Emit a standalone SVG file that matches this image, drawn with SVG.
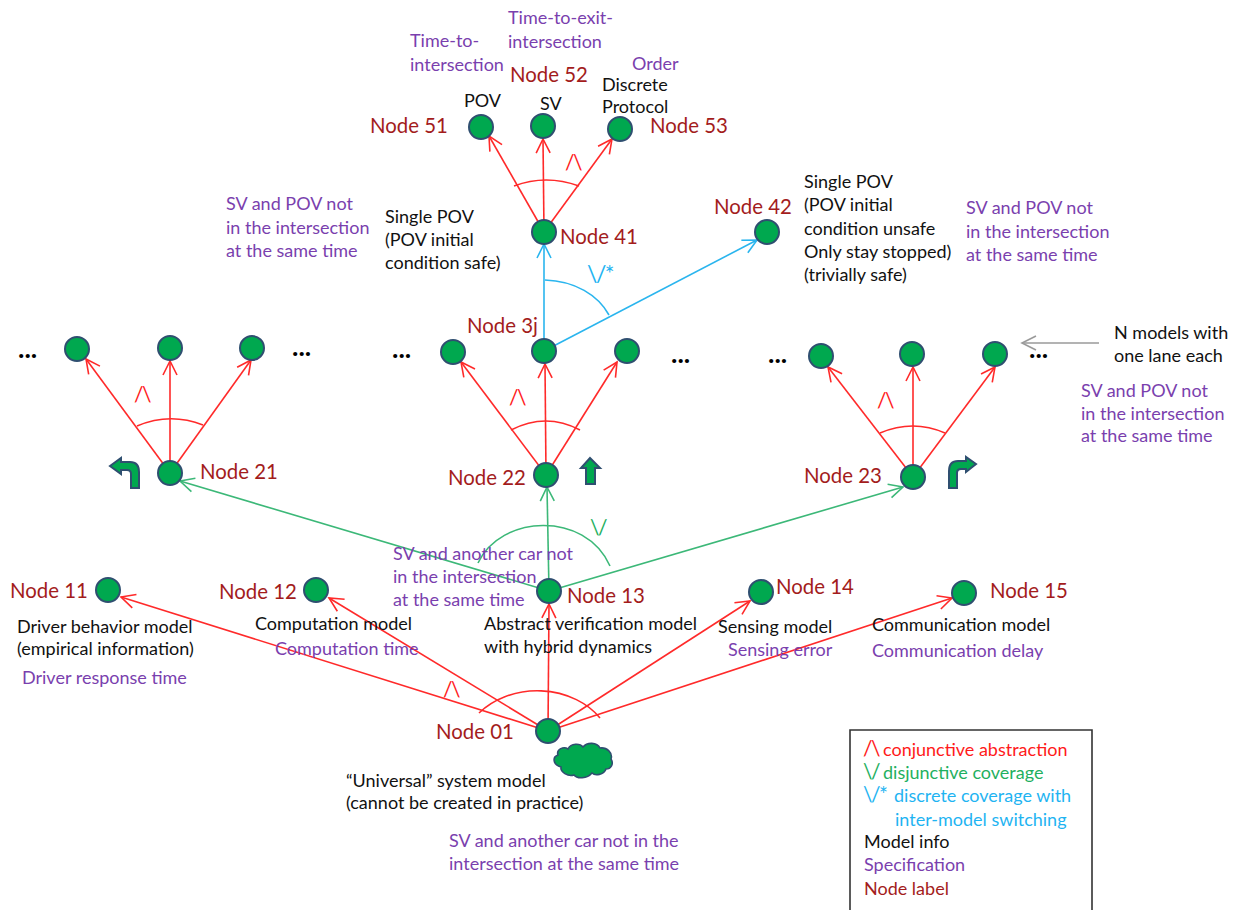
<svg xmlns="http://www.w3.org/2000/svg" width="1247" height="910" viewBox="0 0 1247 910">
<style>
text{font-family:Lato,"Liberation Sans",sans-serif;font-size:18px;transform:translateY(1px)}
.k{fill:#111}
.p{fill:#7a3fae}
.n{fill:#a31c1c;font-size:20.4px}
.r{fill:#ff1a1a}
.g{fill:#1fb060}
.c{fill:#1fb4f2}
.d{font-weight:bold;font-size:27px;fill:#000}
.s{font-size:21px;letter-spacing:-1.5px}
circle{fill:#00a84f;stroke:#2f4f70;stroke-width:2}
.lr,.lg,.lc,.lx{fill:none;stroke-width:1.6}
.lr{stroke:#ff2a2a}
.lg{stroke:#3cb878}
.lc{stroke:#2ab5ee}
.lx{stroke:#9a9a9a}
.ar{marker-end:url(#mr)}
.ag{marker-end:url(#mg)}
.ac{marker-end:url(#mc)}
.ax{marker-end:url(#mx)}
.sh{fill:#00a84f;stroke:#2f4f70;stroke-width:2;stroke-linejoin:miter}
</style>
<defs>
<marker id="mr" markerUnits="userSpaceOnUse" markerWidth="20" markerHeight="20" refX="15" refY="10" orient="auto"><path d="M1 3L15 10L1 17" fill="none" stroke="#ff2a2a" stroke-width="1.6"/></marker>
<marker id="mg" markerUnits="userSpaceOnUse" markerWidth="20" markerHeight="20" refX="15" refY="10" orient="auto"><path d="M1 3L15 10L1 17" fill="none" stroke="#3cb878" stroke-width="1.6"/></marker>
<marker id="mc" markerUnits="userSpaceOnUse" markerWidth="20" markerHeight="20" refX="15" refY="10" orient="auto"><path d="M1 3L15 10L1 17" fill="none" stroke="#2ab5ee" stroke-width="1.6"/></marker>
<marker id="mx" markerUnits="userSpaceOnUse" markerWidth="20" markerHeight="20" refX="15" refY="10" orient="auto"><path d="M1 3L15 10L1 17" fill="none" stroke="#9a9a9a" stroke-width="1.6"/></marker>
</defs>
<rect width="1247" height="910" fill="#fff"/>
<g id="connectors">
<path class="lr ar" d="M548 731L121 597"/>
<path class="lr ar" d="M548 731L329 598"/>
<path class="lr ar" d="M548 731L549 604"/>
<path class="lr ar" d="M548 731L750 601"/>
<path class="lr ar" d="M548 731L952 598"/>
<path class="lr" d="M479 713A75 60 0 0 1 600 718"/>
<path class="lg ag" d="M549 591L180 481"/>
<path class="lg ag" d="M549 591L547 487"/>
<path class="lg ag" d="M549 591L903 487"/>
<path class="lg" d="M478 563C500 515 585 510 610 566"/>
<path class="lr ar" d="M170 473L86 359"/>
<path class="lr ar" d="M170 473L170 361"/>
<path class="lr ar" d="M170 473L251 360"/>
<path class="lr" d="M137 426Q170 412 203 425"/>
<path class="lr ar" d="M546 475L461 362"/>
<path class="lr ar" d="M546 475L545 364"/>
<path class="lr ar" d="M546 475L617 362"/>
<path class="lr" d="M511 430Q546 412 580 430"/>
<path class="lr ar" d="M913 477L828 367"/>
<path class="lr ar" d="M913 477L913 367"/>
<path class="lr ar" d="M913 477L995 367"/>
<path class="lr" d="M880 433Q913 419 945 433"/>
<path class="lc ac" d="M544 351L544 244"/>
<path class="lc ac" d="M544 351L757 240"/>
<path class="lc" d="M545 280C575 281 598 295 609 315"/>
<path class="lr ar" d="M544 232L489 136"/>
<path class="lr ar" d="M544 232L543 139"/>
<path class="lr ar" d="M544 232L612 139"/>
<path class="lr" d="M514 186Q546 174 579 186"/>
<path class="lx ax" d="M1099 343L1022 343"/>
</g>
<g id="node-51"><circle cx="481" cy="127" r="12"/><text class="n" x="370" y="132">Node 51</text><text class="k" x="464" y="106">POV</text></g>
<g id="node-52"><circle cx="543" cy="126" r="12"/><text class="n" x="510" y="81">Node 52</text><text class="k" x="540" y="109">SV</text></g>
<g id="node-53"><circle cx="620" cy="129" r="12"/><text class="n" x="650" y="132">Node 53</text><text class="k" x="602" y="90">Discrete</text><text class="k" x="602" y="112">Protocol</text></g>
<g id="node-41"><circle cx="544" cy="232" r="12"/><text class="n" x="560" y="243">Node 41</text><text class="k" x="385" y="222">Single POV</text><text class="k" x="385" y="245">(POV initial</text><text class="k" x="385" y="268">condition safe)</text></g>
<g id="node-42"><circle cx="767" cy="232" r="12"/><text class="n" x="714" y="213">Node 42</text><text class="k" x="804" y="187">Single POV</text><text class="k" x="804" y="210">(POV initial</text><text class="k" x="804" y="234">condition unsafe</text><text class="k" x="804" y="257">Only stay stopped)</text><text class="k" x="804" y="280">(trivially safe)</text></g>
<g id="node-31"><circle cx="77" cy="349" r="12"/></g>
<g id="node-32"><circle cx="170" cy="348" r="12"/></g>
<g id="node-33"><circle cx="252" cy="348" r="12"/></g>
<g id="node-34"><circle cx="453" cy="352" r="12"/></g>
<g id="node-3j"><circle cx="544" cy="351" r="12"/><text class="n" x="467" y="332">Node 3j</text></g>
<g id="node-36"><circle cx="627" cy="351" r="12"/></g>
<g id="node-37"><circle cx="821" cy="356" r="12"/></g>
<g id="node-38"><circle cx="912" cy="354" r="12"/></g>
<g id="node-39"><circle cx="995" cy="354" r="12"/></g>
<g id="node-21"><circle cx="170" cy="473" r="12"/><text class="n" x="200" y="478">Node 21</text><path class="sh" d="M110 466L121 458V462H130Q139 462 139 472V488H131V474Q131 470 127 470H121V474Z"/></g>
<g id="node-22"><circle cx="546" cy="475" r="12"/><text class="n" x="448" y="484">Node 22</text><path class="sh" d="M590 458L600 468H595V484H586V468H581Z"/></g>
<g id="node-23"><circle cx="913" cy="477" r="12"/><text class="n" x="804" y="482">Node 23</text><path class="sh" d="M976 464L966 457V461H958Q949 461 949 471V488H957V473Q957 469 961 469H966V472Z"/></g>
<g id="node-11"><circle cx="108" cy="590" r="12"/><text class="n" x="10" y="597">Node 11</text><text class="k" x="17" y="632">Driver behavior model</text><text class="k" x="17" y="654">(empirical information)</text><text class="p" x="22" y="683">Driver response time</text></g>
<g id="node-12"><circle cx="316" cy="590" r="12"/><text class="n" x="219" y="598">Node 12</text><text class="k" x="255" y="629">Computation model</text><text class="p" x="275" y="654">Computation time</text></g>
<g id="node-13"><circle cx="549" cy="591" r="12"/><text class="n" x="567" y="602">Node 13</text><text class="p" x="393" y="559">SV and another car not</text><text class="p" x="393" y="582">in the intersection</text><text class="p" x="393" y="605">at the same time</text><text class="k" x="484" y="629">Abstract verification model</text><text class="k" x="484" y="652">with hybrid dynamics</text></g>
<g id="node-14"><circle cx="761" cy="592" r="12"/><text class="n" x="776" y="593">Node 14</text><text class="k" x="718" y="632">Sensing model</text><text class="p" x="728" y="655">Sensing error</text></g>
<g id="node-15"><circle cx="964" cy="593" r="12"/><text class="n" x="990" y="597">Node 15</text><text class="k" x="872" y="630">Communication model</text><text class="p" x="872" y="656">Communication delay</text></g>
<g id="node-01"><circle cx="548" cy="731" r="12"/><text class="n" x="436" y="738">Node 01</text><path class="sh" style="stroke-width:1.6" d="M558 755C556 749 564 746 568 749C571 743 580 743 583 747C587 742 597 742 600 748C607 747 613 753 611 759C614 764 611 769 606 769C604 775 595 776 592 773C587 779 577 779 574 775C568 777 560 772 561 767C553 765 552 757 558 755Z"/><text class="k" x="346" y="786">“Universal” system model</text><text class="k" x="346" y="808">(cannot be created in practice)</text></g>
<g id="specs">
<text class="p" x="508" y="23">Time-to-exit-</text><text class="p" x="508" y="47">intersection</text>
<text class="p" x="410" y="46">Time-to-</text><text class="p" x="410" y="70">intersection</text>
<text class="p" x="632" y="69">Order</text>
<text class="p" x="226" y="209">SV and POV not</text><text class="p" x="226" y="233">in the intersection</text><text class="p" x="226" y="256">at the same time</text>
<text class="p" x="966" y="213">SV and POV not</text><text class="p" x="966" y="237">in the intersection</text><text class="p" x="966" y="260">at the same time</text>
<text class="p" x="1081" y="396">SV and POV not</text><text class="p" x="1081" y="419">in the intersection</text><text class="p" x="1081" y="441">at the same time</text>
<text class="p" x="449" y="846">SV and another car not in the</text><text class="p" x="449" y="869">intersection at the same time</text>
<text class="k" x="1114" y="338">N models with</text><text class="k" x="1114" y="361">one lane each</text>
</g>
<g id="symbols">
<text class="r s" x="565" y="169">/\</text>
<text class="r s" x="134" y="401">/\</text>
<text class="r s" x="509" y="404">/\</text>
<text class="r s" x="877" y="407">/\</text>
<text class="r s" x="443" y="696">/\</text>
<text class="g s" x="590" y="534">\/</text>
<text class="c s" x="587" y="281" style="font-size:23px">\/*</text>
<text class="d" x="18" y="357">...</text><text class="d" x="292" y="355">...</text><text class="d" x="392" y="357">...</text><text class="d" x="671" y="362">...</text><text class="d" x="768" y="362">...</text><text class="d" x="1029" y="357">...</text>
</g>
<g id="legend">
<path d="M850 910V730H1092V910" fill="#fff" stroke="#333" stroke-width="1.6"/>
<text class="r s" x="863" y="755">/\</text><text class="r" x="883" y="755">conjunctive abstraction</text>
<text class="g s" x="863" y="778">\/</text><text class="g" x="883" y="778">disjunctive coverage</text>
<text class="c s" x="863" y="801">\/*</text><text class="c" x="894" y="801">discrete coverage with</text>
<text class="c" x="895" y="825">inter-model switching</text>
<text class="k" x="864" y="847">Model info</text>
<text class="p" x="864" y="870">Specification</text>
<text style="fill:#a31c1c" x="864" y="894">Node label</text>
</g>
</svg>
